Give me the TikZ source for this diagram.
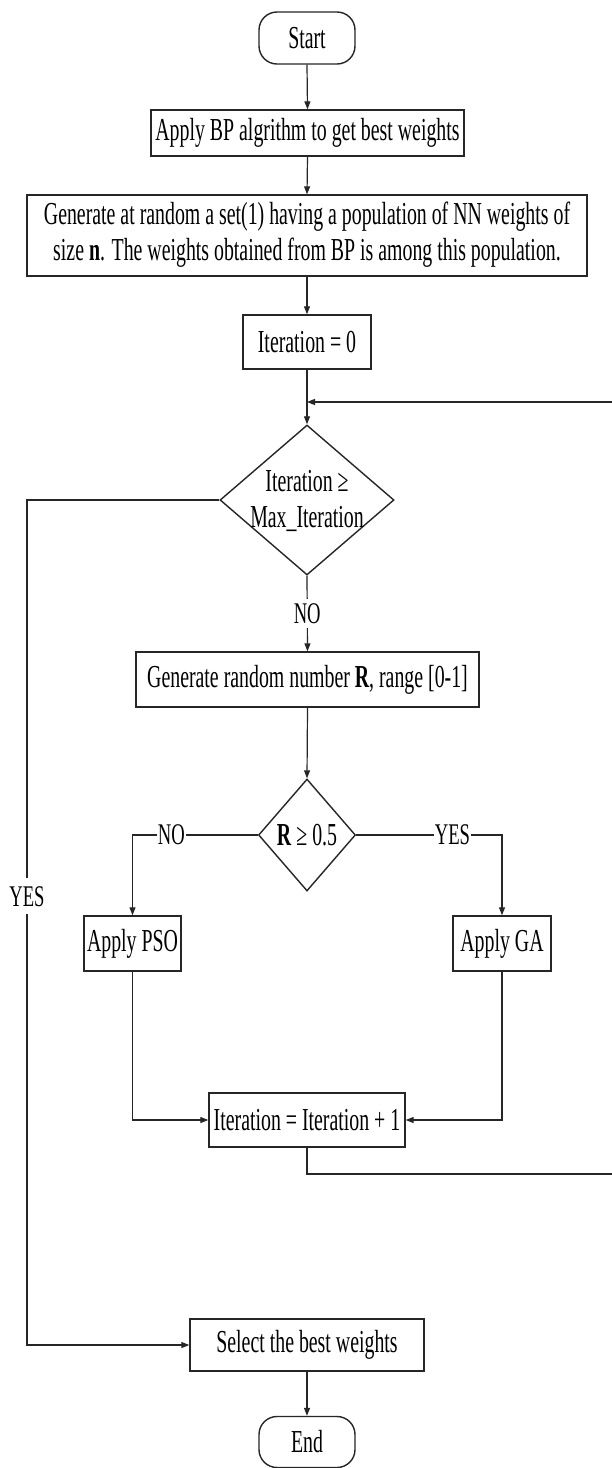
\documentclass[tikz,border=0pt]{standalone}
\usepackage{fontspec}
\setmainfont{Liberation Serif}
\usepackage{graphicx}
\usetikzlibrary{arrows.meta,shapes.geometric,calc}
% narrow (condensed) setting of every text
\newcommand{\nar}[1]{\scalebox{0.62}[1]{#1}}
\begin{document}
\begin{tikzpicture}[x=1pt,y=-1pt,
  base/.style={draw=black!85, line width=1.4pt, inner sep=0pt, fill=white,
               font=\fontsize{32}{36}\selectfont},
  stepbox/.style={base, rectangle},
  termbox/.style={base, rectangle, rounded corners=18pt},
  decbox/.style={base, diamond},
  txt/.style={inner sep=0pt, font=\fontsize{32}{36}\selectfont},
  lbl/.style={inner xsep=1pt, inner ysep=4pt, fill=white, font=\fontsize{30}{32}\selectfont},
  link/.style={draw=black!85, line width=1.2pt},
  arr/.style={link, -{Triangle[length=8pt,width=6pt]}}
]
\fill[white] (0,0) rectangle (611,1468);
\useasboundingbox (0,0) rectangle (611,1468);

% main column
\node[termbox, minimum width=96pt, minimum height=52pt] (start) at (307,38) {\nar{Start}};
\node[stepbox, minimum width=313pt, minimum height=46pt] (bp) at (307.5,133)
  {\nar{Apply BP algrithm to get best weights}};
\node[stepbox, minimum width=560pt, minimum height=81pt] (gen) at (307,235.5)
  {\nar{\begin{tabular}{@{}c@{}}Generate at random a set(1) having a population of NN weights of\\
   size \textbf{n}. The weights obtained from BP is among this population.\end{tabular}}};
\node[stepbox, minimum width=128pt, minimum height=54pt] (it0) at (307,342) {\nar{Iteration = 0}};

\node[decbox, minimum width=174pt, minimum height=150pt] (d1) at (307,500) {};
\node[txt, align=center] (d1t) at (307,502)
  {\nar{\begin{tabular}{@{}c@{}}Iteration ≥\\ Max\_Iteration\end{tabular}}};

\node[stepbox, minimum width=343pt, minimum height=55pt] (gen2) at (307.5,679.5)
  {\nar{Generate random number \textbf{R}, range [0-1]}};

\node[decbox, minimum width=97pt, minimum height=112pt] (d2) at (307,835) {};
\node[txt] (d2t) at (307,835) {\nar{\textbf{R} ≥ 0.5}};

\node[stepbox, minimum width=97pt, minimum height=55pt] (pso) at (132.5,943.5) {\nar{Apply PSO}};
\node[stepbox, minimum width=98pt, minimum height=55pt] (ga) at (502,943.5) {\nar{Apply GA}};

\node[stepbox, minimum width=196pt, minimum height=54pt] (inc) at (307,1120)
  {\nar{Iteration = Iteration + 1}};

\node[stepbox, minimum width=234pt, minimum height=52pt] (sel) at (307,1345)
  {\nar{Select the best weights}};
\node[termbox, minimum width=96pt, minimum height=51pt] (end) at (307,1442) {\nar{End}};

% bend points
\coordinate (lj) at (307,402);
\coordinate (lb) at (307,1174);
\coordinate (lr1) at (614,1174);
\coordinate (lr2) at (614,402);
\coordinate (yl1) at (27,500);
\coordinate (yl2) at (27,1345);
\coordinate (cn) at (132.5,835);
\coordinate (cy) at (502,835);

% connectors
\draw[arr] (start.south) -- (bp.north);
\draw[arr] (bp.south) -- (gen.north);
\draw[arr] (gen.south) -- (it0.north);
\draw[arr] (it0.south) -- (d1.north);
\draw[arr] (d1.south) -- node[lbl]{\nar{NO}} (gen2.north);
\draw[arr] (gen2.south) -- (d2.north);
\draw[arr] (d2.west) -- node[lbl, inner ysep=1pt, pos=0.69]{\nar{NO}} (cn) -- (pso.north);
\draw[arr] (d2.east) -- node[lbl, inner ysep=1pt, pos=0.66]{\nar{YES}} (cy) -- (ga.north);
\draw[arr] (pso.south) |- (inc.west);
\draw[arr] (ga.south) |- (inc.east);
\draw[arr] (inc.south) -- (lb) -- (lr1) -- (lr2) -- (lj);
\draw[arr] (d1.west) -- (yl1) -- node[lbl, inner ysep=8pt, pos=0.469]{\nar{YES}} (yl2) -- (sel.west);
\draw[arr] (sel.south) -- (end.north);
\end{tikzpicture}
\end{document}
